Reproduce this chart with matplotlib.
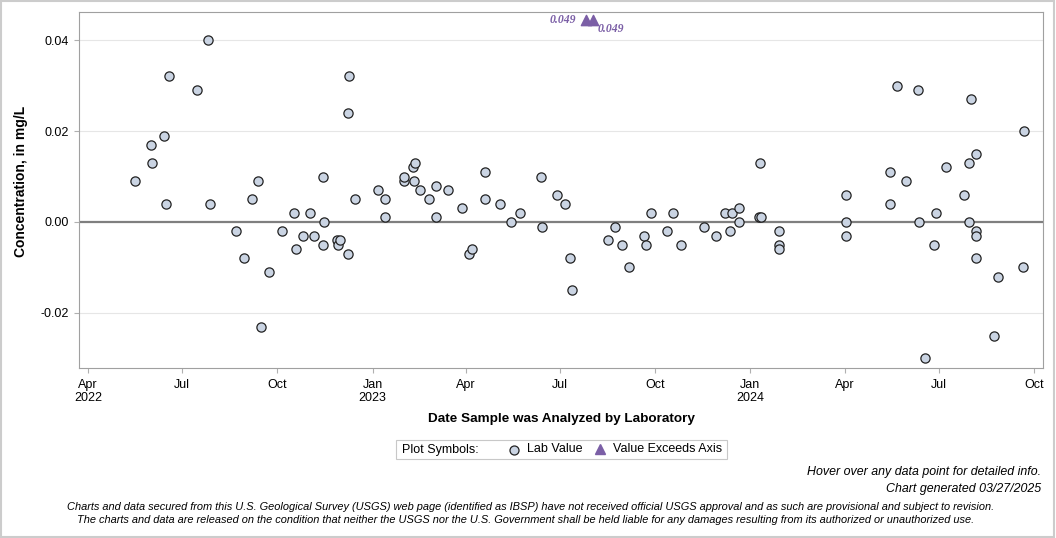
import numpy as np
import matplotlib
matplotlib.use("Agg")
import matplotlib.pyplot as plt
import matplotlib.dates as mdates
from matplotlib.lines import Line2D
from matplotlib.patches import Rectangle

plt.rcParams["font.family"] = ["Liberation Sans", "DejaVu Sans"]

# lab values (date analyzed, concentration mg/L)
dates = [
    "2022-05-16", "2022-06-01", "2022-06-02", "2022-06-13", "2022-06-15", "2022-06-18",
    "2022-07-15", "2022-07-26", "2022-07-28", "2022-08-22", "2022-08-30", "2022-09-06",
    "2022-09-12", "2022-09-15", "2022-09-23", "2022-10-05", "2022-10-17", "2022-10-19",
    "2022-10-26", "2022-11-01", "2022-11-05", "2022-11-14", "2022-11-14", "2022-11-15",
    "2022-11-28", "2022-11-29", "2022-11-30", "2022-12-08", "2022-12-08", "2022-12-09",
    "2022-12-15", "2023-01-06", "2023-01-13", "2023-01-13", "2023-01-31", "2023-01-31",
    "2023-02-09", "2023-02-10", "2023-02-11", "2023-02-16", "2023-02-24", "2023-03-03",
    "2023-03-03", "2023-03-15", "2023-03-28", "2023-04-04", "2023-04-07", "2023-04-20",
    "2023-04-20", "2023-05-04", "2023-05-15", "2023-05-23", "2023-06-13", "2023-06-14",
    "2023-06-28", "2023-07-06", "2023-07-11", "2023-07-13", "2023-08-16", "2023-08-23",
    "2023-08-30", "2023-09-06", "2023-09-20", "2023-09-22", "2023-09-27", "2023-10-12",
    "2023-10-18", "2023-10-26", "2023-11-17", "2023-11-29", "2023-12-07", "2023-12-12",
    "2023-12-14", "2023-12-21", "2023-12-21", "2024-01-09", "2024-01-10", "2024-01-11",
    "2024-01-29", "2024-01-29", "2024-01-29", "2024-04-02", "2024-04-02", "2024-04-02",
    "2024-05-15", "2024-05-15", "2024-05-22", "2024-05-30", "2024-06-11", "2024-06-12",
    "2024-06-18", "2024-06-26", "2024-06-28", "2024-07-08", "2024-07-25", "2024-07-30",
    "2024-07-30", "2024-08-01", "2024-08-06", "2024-08-06", "2024-08-06", "2024-08-06",
    "2024-08-23", "2024-08-27", "2024-09-20", "2024-09-21",
]
values = [
    0.009, 0.017, 0.013, 0.019, 0.004, 0.032,
    0.029, 0.040, 0.004, -0.002, -0.008, 0.005,
    0.009, -0.023, -0.011, -0.002, 0.002, -0.006,
    -0.003, 0.002, -0.003, 0.010, -0.005, 0.000,
    -0.004, -0.005, -0.004, 0.024, -0.007, 0.032,
    0.005, 0.007, 0.005, 0.001, 0.009, 0.010,
    0.012, 0.009, 0.013, 0.007, 0.005, 0.008,
    0.001, 0.007, 0.003, -0.007, -0.006, 0.011,
    0.005, 0.004, 0.000, 0.002, 0.010, -0.001,
    0.006, 0.004, -0.008, -0.015, -0.004, -0.001,
    -0.005, -0.010, -0.003, -0.005, 0.002, -0.002,
    0.002, -0.005, -0.001, -0.003, 0.002, -0.002,
    0.002, 0.003, 0.000, 0.001, 0.013, 0.001,
    -0.002, -0.005, -0.006, 0.006, 0.000, -0.003,
    0.011, 0.004, 0.030, 0.009, 0.029, 0.000,
    -0.030, -0.005, 0.002, 0.012, 0.006, 0.013,
    0.000, 0.027, 0.015, -0.002, -0.003, -0.008,
    -0.025, -0.012, -0.010, 0.020,
]

# values above the axis maximum
exceed_dates = ["2023-07-26", "2023-08-02"]
exceed_values = [0.049, 0.049]

tick_dates = ["2022-04-01", "2022-07-01", "2022-10-01", "2023-01-01", "2023-04-01", "2023-07-01",
              "2023-10-01", "2024-01-01", "2024-04-01", "2024-07-01", "2024-10-01"]
tick_labels = ["Apr\n2022", "Jul", "Oct", "Jan\n2023", "Apr", "Jul", "Oct", "Jan\n2024", "Apr", "Jul", "Oct"]
y_ticks = [-0.02, 0.00, 0.02, 0.04]
y_labels = ["-0.02", "0.00", "0.02", "0.04"]

W, H = 1056, 538
ymin, ymax = -0.0321, 0.0461

def fx(x):
    return x / W

def fy(y):
    return 1 - y / H

x = mdates.date2num(np.array(dates, dtype="datetime64[D]"))
xe = mdates.date2num(np.array(exceed_dates, dtype="datetime64[D]"))

fig = plt.figure(figsize=(W / 100, H / 100), dpi=100)
ax = fig.add_axes([fx(79.3), fy(368), fx(1043) - fx(79.3), fy(12.3) - fy(368)])

for g in y_ticks:
    if g != 0:
        ax.axhline(g, color="#e6e6e6", lw=0.8, zorder=0)
ax.axhline(0, color="#7f7f7f", lw=1.6, zorder=1)

ax.scatter(x, values, s=44, facecolor="#cad4e3", edgecolor="#222222", linewidths=0.9, zorder=3)

# exceeding values pinned just under the top of the axis
cap = ymax - 0.0017
ax.scatter(xe, [cap] * len(xe), marker="^", s=55, color="#7b5fa6", zorder=3)
lab_font = dict(family="Liberation Serif", weight="bold", style="italic", size=8.5, color="#7b5fa6")
ax.annotate(f"{exceed_values[0]:.3f}", (xe[0], cap), xytext=(-7, 0), textcoords="offset points",
            ha="right", va="center", **lab_font)
ax.annotate(f"{exceed_values[1]:.3f}", (xe[1], cap), xytext=(3, -6.5), textcoords="offset points",
            ha="left", va="center", **lab_font)

ax.set_xlim(mdates.date2num(np.datetime64("2022-03-23T14:00")),
            mdates.date2num(np.datetime64("2024-10-09T16:00")))
ax.set_ylim(ymin, ymax)
ax.set_xticks(mdates.date2num(np.array(tick_dates, dtype="datetime64[D]")))
ax.set_xticklabels(tick_labels, fontsize=9, linespacing=1.05)
ax.set_yticks(y_ticks)
ax.set_yticklabels(y_labels, fontsize=9)
ax.tick_params(axis="both", color="#b0b0b0", length=3.5, width=0.8)
ax.tick_params(axis="x", pad=4.5)
ax.tick_params(axis="y", pad=4)

for s in ax.spines.values():
    s.set_color("#a0a0a0")
    s.set_linewidth(0.8)

ax.set_ylabel("Concentration, in mg/L", fontsize=10, fontweight="bold", va="center")
ax.yaxis.set_label_coords(-0.06, 0.524)
ax.set_xlabel("Date Sample was Analyzed by Laboratory", fontsize=9.7, fontweight="bold", va="center")
ax.xaxis.set_label_coords(0.5, -0.143)

# legend box
fig.add_artist(Rectangle((fx(396), fy(459)), fx(727) - fx(396), fy(440) - fy(459),
                         transform=fig.transFigure, facecolor="white", edgecolor="#c8c8c8", lw=0.8))
fig.text(fx(402), fy(449.5), "Plot Symbols:", fontsize=9, va="center", ha="left")
fig.add_artist(Line2D([fx(514)], [fy(450)], transform=fig.transFigure, marker="o", markersize=6.5,
                      markerfacecolor="#cad4e3", markeredgecolor="#222222", markeredgewidth=0.9, linestyle="none"))
fig.text(fx(527), fy(449.5), "Lab Value", fontsize=9, va="center", ha="left")
fig.add_artist(Line2D([fx(600)], [fy(449)], transform=fig.transFigure, marker="^", markersize=7.5,
                      color="#7b5fa6", linestyle="none"))
fig.text(fx(613), fy(449.5), "Value Exceeds Axis", fontsize=9, va="center", ha="left")

fig.text(fx(1041), fy(472), "Hover over any data point for detailed info.", fontsize=8.9,
         style="italic", ha="right", va="center")
fig.text(fx(1041), fy(489), "Chart generated 03/27/2025", fontsize=8.9,
         style="italic", ha="right", va="center")
fig.text(fx(531), fy(507), "Charts and data secured from this U.S. Geological Survey (USGS) web page "
         "(identified as IBSP) have not received official USGS approval and as such are provisional "
         "and subject to revision.", fontsize=7.95, style="italic", ha="center", va="center")
fig.text(fx(526), fy(520), "The charts and data are released on the condition that neither the USGS "
         "nor the U.S. Government shall be held liable for any damages resulting from its authorized "
         "or unauthorized use.", fontsize=7.95, style="italic", ha="center", va="center")

# outer border
fig.add_artist(Rectangle((0.0005, 0.001), 0.998, 0.997, transform=fig.transFigure,
                         fill=False, edgecolor="#cccccc", lw=1.5))

fig.savefig("out.png", dpi=100)
